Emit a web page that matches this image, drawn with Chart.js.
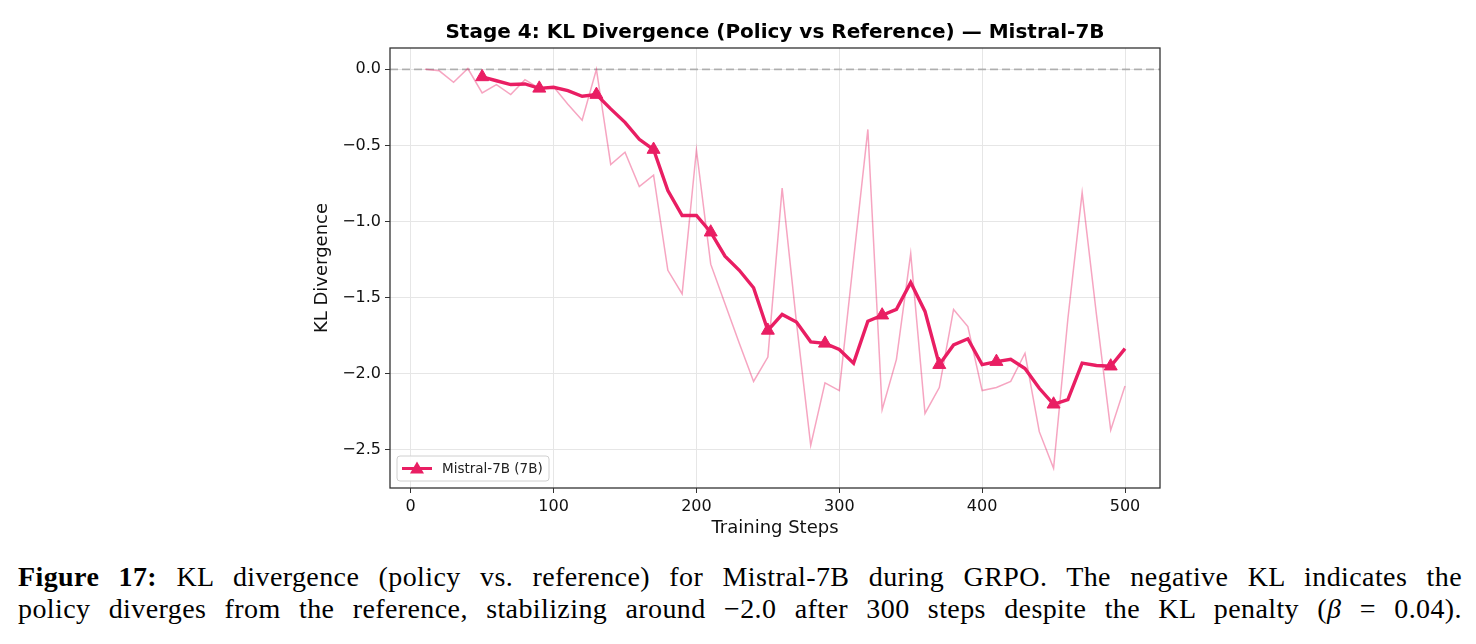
<!DOCTYPE html>
<html>
<head>
<meta charset="utf-8">
<script src="https://cdn.jsdelivr.net/npm/chart.js@4.4.1/dist/chart.umd.min.js"></script>
<style>
    html, body { margin: 0; padding: 0; background: #fff; }
    body { width: 1476px; height: 644px; position: relative; overflow: hidden; }
    #wrap { position: absolute; left: 0; top: 0; width: 1476px; height: 550px; }
    .caption {
        position: absolute; left: 18px; width: 1444px;
        font-family: 'Liberation Serif', 'DejaVu Serif', serif;
        font-size: 28px; line-height: 34px; color: #000; white-space: nowrap;
        letter-spacing: 0.4px;
        text-align: justify; text-align-last: justify;
    }
    .caption b { font-weight: bold; }
</style>
</head>
<body>
<div id="wrap"><canvas id="klChart" width="1476" height="550"></canvas></div>
<div class="caption" style="top:560px;"><b>Figure 17:</b> KL divergence (policy vs. reference) for Mistral-7B during GRPO. The negative KL indicates the</div>
<div class="caption" style="top:592px;">policy diverges from the reference, stabilizing around &minus;2.0 after 300 steps despite the KL penalty (<i>&beta;</i> = 0.04).</div>

<script>
// training steps for the raw KL values
var steps = [10, 20, 30, 40, 50, 60, 70, 80, 90, 100,
    110, 120, 130, 140, 150, 160, 170, 180, 190, 200,
    210, 220, 230, 240, 250, 260, 270, 280, 290, 300,
    310, 320, 330, 340, 350, 360, 370, 380, 390, 400,
    410, 420, 430, 440, 450, 460, 470, 480, 490, 500];

var rawKL = [0.0, -0.01, -0.085, 0.005, -0.155, -0.10, -0.166, -0.068, -0.125, -0.115,
    -0.23, -0.335, 0.0, -0.625, -0.545, -0.77, -0.695, -1.32, -1.475, -0.53,
    -1.28, -1.54, -1.80, -2.05, -1.89, -0.78, -1.66, -2.47, -2.06, -2.11,
    -1.25, -0.395, -2.235, -1.905, -1.21, -2.26, -2.09, -1.577, -1.69, -2.11,
    -2.09, -2.05, -1.865, -2.38, -2.62, -1.64, -0.81, -1.61, -2.37, -2.08];

// smoothed curve starts at step 50
var smoothSteps = steps.slice(4);
var smoothKL = [-0.05, -0.075, -0.10, -0.096, -0.125, -0.118, -0.14, -0.177, -0.166, -0.26,
    -0.348, -0.46, -0.527, -0.796, -0.96, -0.96, -1.07, -1.227, -1.32, -1.435,
    -1.715, -1.61, -1.66, -1.79, -1.80, -1.84, -1.93, -1.655, -1.615, -1.577,
    -1.40, -1.59, -1.94, -1.81, -1.77, -1.94, -1.92, -1.905, -1.965, -2.095,
    -2.20, -2.17, -1.93, -1.945, -1.95, -1.835];

var xTicks = [0, 100, 200, 300, 400, 500];
var yTicks = [0.0, -0.5, -1.0, -1.5, -2.0, -2.5];

var mainColor = '#e91e63';
var rawColor = 'rgba(233, 30, 99, 0.4)';
var font = "'DejaVu Sans', sans-serif";

function toPoints(xs, ys) {
    return xs.map(function (x, i) { return { x: x, y: ys[i] }; });
}

function fmt(v) {
    var s = Math.abs(v).toFixed(1);
    return v < -1e-9 ? '\u2212' + s : s;
}

// frame, dashed zero line and legend
var extras = {
    id: 'extras',
    beforeDatasetsDraw: function (chart) {
        var ctx = chart.ctx, a = chart.chartArea;
        var y0 = chart.scales.y.getPixelForValue(0);
        ctx.save();
        ctx.strokeStyle = 'rgba(128,128,128,0.55)';
        ctx.lineWidth = 1.8;
        ctx.setLineDash([8, 4]);
        ctx.beginPath();
        ctx.moveTo(a.left, y0);
        ctx.lineTo(a.right, y0);
        ctx.stroke();
        ctx.restore();
    },
    afterDraw: function (chart) {
        var ctx = chart.ctx, a = chart.chartArea;
        ctx.save();
        ctx.strokeStyle = '#333';
        ctx.lineWidth = 1.3;
        ctx.strokeRect(a.left, a.top, a.right - a.left, a.bottom - a.top);

        // legend, lower left
        var ds = chart.data.datasets[1];
        var bx = a.left + 7, by = a.bottom - 32, bw = 152, bh = 25;
        ctx.fillStyle = 'rgba(255,255,255,0.85)';
        ctx.strokeStyle = '#d0d0d0';
        ctx.lineWidth = 1;
        ctx.beginPath();
        ctx.roundRect(bx, by, bw, bh, 3);
        ctx.fill();
        ctx.stroke();
        var ly = by + bh / 2;
        ctx.strokeStyle = ds.borderColor;
        ctx.lineWidth = 3;
        ctx.beginPath();
        ctx.moveTo(bx + 5, ly);
        ctx.lineTo(bx + 35, ly);
        ctx.stroke();
        ctx.fillStyle = ds.borderColor;
        ctx.beginPath();
        ctx.moveTo(bx + 20, ly - 7);
        ctx.lineTo(bx + 27, ly + 5);
        ctx.lineTo(bx + 13, ly + 5);
        ctx.closePath();
        ctx.fill();
        ctx.fillStyle = '#222';
        ctx.font = '13.5px ' + font;
        ctx.textBaseline = 'middle';
        ctx.fillText(ds.label, bx + 45, ly + 1);
        ctx.restore();
    }
};

var ctx = document.getElementById('klChart').getContext('2d');
var klChart = new Chart(ctx, {
    type: 'line',
    data: {
        datasets: [{
            label: 'raw',
            data: toPoints(steps, rawKL),
            borderColor: rawColor,
            borderWidth: 1.5,
            pointRadius: 0,
            tension: 0,
            order: 2
        }, {
            label: 'Mistral-7B (7B)',
            data: toPoints(smoothSteps, smoothKL),
            borderColor: mainColor,
            backgroundColor: mainColor,
            borderWidth: 3.4,
            pointStyle: 'triangle',
            pointRadius: function (c) { return c.dataIndex % 4 === 0 ? 7.5 : 0; },
            pointBorderWidth: 1,
            tension: 0,
            order: 1
        }]
    },
    options: {
        responsive: false,
        animation: false,
        events: [],
        layout: { padding: { left: 300, right: 316, top: 0, bottom: 0 } },
        plugins: {
            legend: { display: false },
            tooltip: { enabled: false },
            title: {
                display: true,
                fullSize: false,
                text: 'Stage 4: KL Divergence (Policy vs Reference) \u2014 Mistral-7B',
                color: '#000',
                font: { family: font, size: 20, weight: 'bold' },
                padding: { top: 21, bottom: 3 }
            }
        },
        scales: {
            x: {
                type: 'linear',
                min: -14.5,
                max: 524.5,
                afterBuildTicks: function (s) { s.ticks = xTicks.map(function (v) { return { value: v }; }); },
                afterFit: function (s) { s.height = 62; },
                ticks: { color: '#111', font: { family: font, size: 16 }, padding: 4, maxRotation: 0 },
                grid: { color: '#e6e6e6', lineWidth: 1, tickColor: '#333', tickLength: 5 },
                border: { display: false },
                title: {
                    display: true, text: 'Training Steps', color: '#111',
                    font: { family: font, size: 18 }, padding: { top: 0, bottom: 11 }
                }
            },
            y: {
                min: -2.75,
                max: 0.14,
                afterBuildTicks: function (s) { s.ticks = yTicks.map(function (v) { return { value: v }; }); },
                afterFit: function (s) { s.width = 90; },
                ticks: {
                    color: '#111', font: { family: font, size: 16 }, padding: 4,
                    callback: function (v) { return fmt(v); }
                },
                grid: { color: '#e6e6e6', lineWidth: 1, tickColor: '#333', tickLength: 5 },
                border: { display: false },
                title: {
                    display: true, text: 'KL Divergence', color: '#111',
                    font: { family: font, size: 18 }, padding: { top: 12, bottom: 0 }
                }
            }
        }
    },
    plugins: [extras]
});
</script>
</body>
</html>
